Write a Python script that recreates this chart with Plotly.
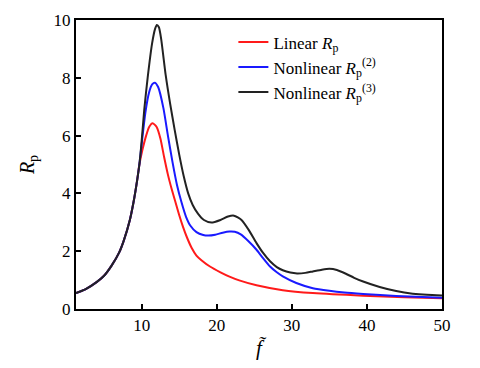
import plotly.graph_objects as go

# Linear Rp
red_x = [1.26, 2.5, 4.0, 5.0, 6.0, 7.0, 7.6, 8.44, 8.98, 9.4, 9.7, 10.1, 10.6, 11.0, 11.46, 12.0, 12.5, 13.0, 13.5, 14.0, 14.5, 15.0, 15.5, 16.0, 16.65, 17.3, 18.0, 19.1, 20.5, 21.7, 23.0, 25.3, 28.8, 32.8, 39.5, 45.0, 50.0]
red_y = [0.55, 0.68, 0.93, 1.15, 1.5, 1.95, 2.35, 3.09, 3.78, 4.45, 5.0, 5.5, 6.0, 6.3, 6.43, 6.3, 5.9, 5.25, 4.65, 4.15, 3.7, 3.25, 2.85, 2.5, 2.12, 1.85, 1.68, 1.47, 1.27, 1.12, 0.99, 0.82, 0.65, 0.55, 0.46, 0.41, 0.37]

# Nonlinear Rp(2)
blue_x = [1.26, 2.5, 4.0, 5.0, 6.0, 7.0, 7.6, 8.44, 8.98, 9.4, 9.7, 10.0, 10.5, 11.0, 11.4, 11.77, 12.2, 12.9, 13.5, 14.1, 14.7, 15.3, 15.9, 16.5, 17.3, 18.2, 18.9, 19.8, 20.8, 21.7, 22.4, 23.2, 24.2, 25.3, 26.2, 27.1, 28.0, 28.8, 30.6, 32.8, 35.0, 37.0, 39.5, 43.9, 50.0]
blue_y = [0.55, 0.68, 0.93, 1.15, 1.5, 1.95, 2.35, 3.09, 3.78, 4.45, 5.0, 5.7, 6.8, 7.5, 7.77, 7.83, 7.68, 6.95, 6.0, 5.1, 4.3, 3.7, 3.2, 2.88, 2.66, 2.56, 2.54, 2.57, 2.64, 2.68, 2.67, 2.58, 2.35, 2.05, 1.75, 1.47, 1.27, 1.13, 0.9, 0.72, 0.63, 0.57, 0.52, 0.45, 0.39]

# Nonlinear Rp(3)
black_x = [1.26, 2.5, 4.0, 5.0, 6.0, 7.0, 7.6, 8.44, 8.98, 9.4, 9.7, 10.0, 10.35, 10.8, 11.4, 11.8, 12.03, 12.3, 12.6, 13.2, 13.8, 14.4, 15.0, 15.6, 16.2, 16.8, 17.5, 18.3, 19.3, 20.5, 21.5, 22.3, 23.3, 24.3, 25.3, 26.2, 27.1, 28.0, 28.8, 29.8, 30.7, 31.8, 32.8, 34.0, 35.0, 36.0, 37.2, 38.3, 39.5, 41.7, 43.9, 46.1, 48.0, 50.0]
black_y = [0.55, 0.68, 0.93, 1.15, 1.5, 1.95, 2.35, 3.09, 3.78, 4.45, 5.0, 5.8, 6.9, 8.0, 9.2, 9.7, 9.83, 9.75, 9.35, 8.1, 7.1, 6.2, 5.35, 4.6, 4.0, 3.6, 3.3, 3.08, 2.99, 3.08, 3.2, 3.23, 3.08, 2.72, 2.28, 1.93, 1.65, 1.45, 1.34, 1.26, 1.23, 1.25, 1.30, 1.36, 1.39, 1.35, 1.22, 1.08, 0.95, 0.76, 0.62, 0.53, 0.49, 0.47]

names = ["Linear <i>R</i><sub>p</sub>",
         "Nonlinear <i>R</i><sub>p</sub><sup>(2)</sup>",
         "Nonlinear <i>R</i><sub>p</sub><sup>(3)</sup>"]
x_ticks = [10, 20, 30, 40, 50]
y_ticks = [0, 2, 4, 6, 8, 10]

FONT = "Times New Roman"

fig = go.Figure()
for xs, ys, name, color in [(red_x, red_y, names[0], "#ff1a1a"),
                            (blue_x, blue_y, names[1], "#1a1aff"),
                            (black_x, black_y, names[2], "#222222")]:
    fig.add_trace(go.Scatter(x=xs, y=ys, mode="lines", name=name,
                             line=dict(color=color, width=2, shape="spline", smoothing=0.6)))

fig.update_layout(
    width=480, height=368,
    margin=dict(l=68, r=46, t=12, b=67),
    paper_bgcolor="white", plot_bgcolor="white",
    font=dict(family=FONT, size=17, color="black"),
    showlegend=True,
    legend=dict(x=0.43, y=0.985, xanchor="left", yanchor="top",
                bgcolor="rgba(0,0,0,0)", borderwidth=0,
                font=dict(family=FONT, size=17), tracegroupgap=0,
                itemwidth=30),
)
fig.update_xaxes(range=[1.26, 50], tickvals=x_ticks, ticks="inside", ticklen=5,
                 tickwidth=1.5, tickcolor="black", automargin=False,
                 showline=True, linecolor="black", linewidth=2, mirror=True,
                 showgrid=False, zeroline=False,
                 title=dict(text="<i>f\u0303</i>", font=dict(family=FONT, size=21), standoff=6))
fig.update_yaxes(range=[0, 10], tickvals=y_ticks, ticks="inside", ticklen=5,
                 tickwidth=1.5, tickcolor="black", automargin=False,
                 showline=True, linecolor="black", linewidth=2, mirror=True,
                 showgrid=False, zeroline=False,
                 title=dict(text="<i>R</i><sub>p</sub>", font=dict(family=FONT, size=20), standoff=14))

fig.write_html("out.html")
